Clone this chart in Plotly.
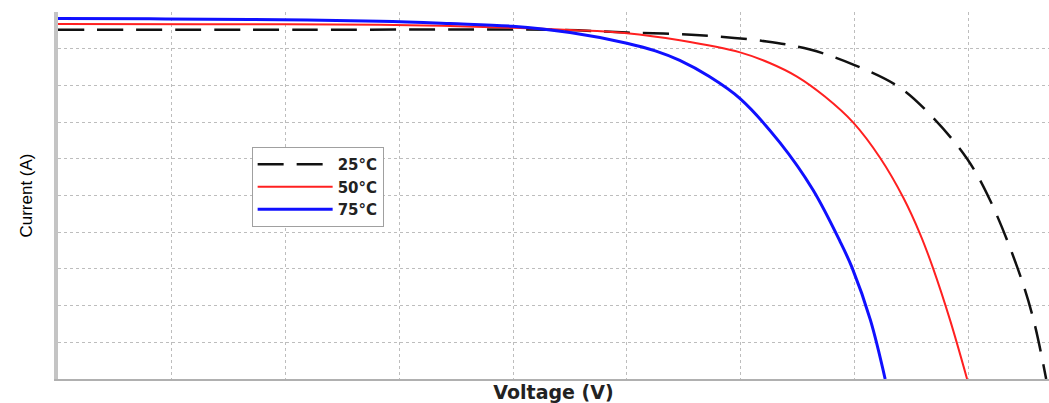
import plotly.graph_objects as go

# Voltage (V) / Current (A)
voltage_25 = [0, 4.25, 8.82, 10.00, 11.28, 12.46, 13.22, 13.98, 14.80, 15.38, 15.98, 16.38,
              16.86, 17.14, 17.37]
current_25 = [4.757, 4.757, 4.755, 4.720, 4.684, 4.598, 4.489, 4.284, 3.970, 3.561, 3.001,
              2.442, 1.528, 0.832, 0.0]

voltage_50 = [0, 2.49, 5.66, 7.99, 9.00, 10.00, 10.93, 11.99, 12.51, 12.99, 13.48, 13.98,
              14.45, 14.86, 15.16, 15.38, 15.68, 15.98]
current_50 = [4.837, 4.834, 4.826, 4.785, 4.755, 4.712, 4.615, 4.450, 4.305, 4.120, 3.848,
              3.493, 3.015, 2.470, 1.965, 1.514, 0.805, 0.0]

voltage_75 = [0, 1.61, 3.37, 5.66, 6.89, 7.99, 9.00, 10.00, 10.50, 10.93, 11.45, 11.99,
              12.69, 13.27, 13.75, 13.96, 14.28, 14.54]
current_75 = [4.911, 4.907, 4.898, 4.875, 4.843, 4.806, 4.720, 4.575, 4.470, 4.340, 4.120,
              3.820, 3.220, 2.578, 1.869, 1.514, 0.805, 0.0]

series_names = ["25°C", "50°C", "75°C"]

fig = go.Figure()
fig.add_trace(go.Scatter(x=voltage_25, y=current_25, mode="lines", name=series_names[0],
                         line=dict(color="#111111", width=2.5, dash="26px,13px",
                                   shape="spline", smoothing=1.0)))
fig.add_trace(go.Scatter(x=voltage_50, y=current_50, mode="lines", name=series_names[1],
                         line=dict(color="#ff2020", width=2, shape="spline", smoothing=1.0)))
fig.add_trace(go.Scatter(x=voltage_75, y=current_75, mode="lines", name=series_names[2],
                         line=dict(color="#1010ff", width=3, shape="spline", smoothing=1.0)))

grid = dict(showgrid=True, gridcolor="#bdbdbd", griddash="dot", gridwidth=1,
            showticklabels=False, ticks="", zeroline=False,
            showline=True, mirror=False)

fig.update_layout(
    width=1049, height=403,
    margin=dict(l=58, r=0, t=12, b=24),
    paper_bgcolor="white", plot_bgcolor="white",
    showlegend=True,
    legend=dict(x=0.1954, y=0.632, xanchor="left", yanchor="top",
                bgcolor="white", bordercolor="#a0a0a0", borderwidth=1,
                font=dict(family="DejaVu Sans", size=15, color="#222222", weight="bold"),
                itemwidth=75, tracegroupgap=0),
)
fig.update_xaxes(range=[0, 17.42], tick0=0, dtick=2, automargin=False,
                 linecolor="#b0b0b0", linewidth=1.5,
                 title=dict(text="<b>Voltage (V)</b>", standoff=6,
                            font=dict(family="DejaVu Sans", size=19, color="#222222")),
                 **grid)
fig.update_yaxes(range=[0, 5.0], tick0=0, dtick=0.5, automargin=False,
                 linecolor="#c4c4c4", linewidth=4,
                 title=dict(text="Current (A)", standoff=18,
                            font=dict(family="Liberation Sans", size=17, color="#000000")),
                 **grid)

fig.write_html("out.html")
